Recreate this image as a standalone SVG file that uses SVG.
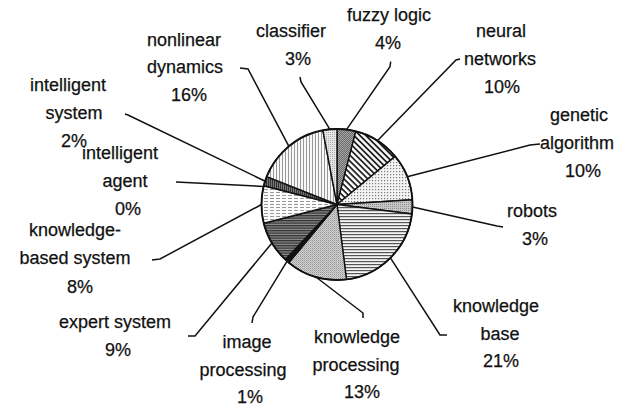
<svg xmlns="http://www.w3.org/2000/svg" width="625" height="406" viewBox="0 0 625 406">
  <style>
    .lbl { font-family: "Liberation Sans", Arial, sans-serif; font-size: 18px; fill: #111; stroke: #111; stroke-width: 0.25; text-anchor: middle; }
    .slice { stroke: #111; stroke-width: 1.4; stroke-linejoin: round; }
    .lead { fill: none; stroke: #111; stroke-width: 1.5; }
  </style>
  <defs>
    <pattern id="pFuzzy" width="2" height="2" patternUnits="userSpaceOnUse">
      <rect width="2" height="2" fill="#6a6a6a"/>
      <rect width="1" height="1" fill="#a6a6a6"/>
      <rect x="1" y="1" width="1" height="1" fill="#a6a6a6"/>
    </pattern>
    <pattern id="pClassifier" width="2" height="2" patternUnits="userSpaceOnUse">
      <rect width="2" height="2" fill="#e6e6e6"/>
      <rect width="1" height="1" fill="#a8a8a8"/>
    </pattern>
    <pattern id="pNeural" width="4.2" height="4.2" patternUnits="userSpaceOnUse" patternTransform="rotate(45)">
      <rect width="4.2" height="4.2" fill="#fff"/>
      <rect y="0" width="4.2" height="1.8" fill="#222"/>
    </pattern>
    <pattern id="pGenetic" width="3" height="3" patternUnits="userSpaceOnUse">
      <rect width="3" height="3" fill="#f4f4f4"/>
      <rect width="1.2" height="1.2" fill="#7a7a7a"/>
    </pattern>
    <pattern id="pRobots" width="2" height="2" patternUnits="userSpaceOnUse">
      <rect width="2" height="2" fill="#c8c8c8"/>
      <rect width="1" height="1" fill="#8c8c8c"/>
    </pattern>
    <pattern id="pKB" width="3" height="3" patternUnits="userSpaceOnUse">
      <rect width="3" height="3" fill="#f4f4f4"/>
      <rect width="3" height="1.2" fill="#555"/>
    </pattern>
    <pattern id="pKP" width="2" height="2" patternUnits="userSpaceOnUse">
      <rect width="2" height="2" fill="#d2d2d2"/>
      <rect width="1" height="1" fill="#949494"/>
      <rect x="1" y="1" width="1" height="1" fill="#b4b4b4"/>
    </pattern>
    <pattern id="pExpert" width="2.5" height="2.5" patternUnits="userSpaceOnUse">
      <rect width="2.5" height="2.5" fill="#8e8e8e"/>
      <rect width="2.5" height="1.3" fill="#333"/>
    </pattern>
    <pattern id="pKBS" width="6" height="3" patternUnits="userSpaceOnUse">
      <rect width="6" height="3" fill="#fcfcfc"/>
      <rect width="4" height="1" fill="#9a9a9a"/>
    </pattern>
    <pattern id="pIS" width="2" height="2" patternUnits="userSpaceOnUse">
      <rect width="2" height="2" fill="#777"/>
      <rect width="1" height="2" fill="#333"/>
    </pattern>
    <pattern id="pNonlinear" width="3" height="3" patternUnits="userSpaceOnUse">
      <rect width="3" height="3" fill="#f8f8f8"/>
      <rect width="1" height="3" fill="#999"/>
    </pattern>
  </defs>

  <!-- leader lines from labels to slices -->
  <g id="connectors">
    <polyline class="lead" points="390.7,61.7 390,66.7 346.5,129.6"/>
    <polyline class="lead" points="300,77 301,82 329.9,129.3"/>
    <polyline class="lead" points="460,59 456,60 377.4,140.8"/>
    <polyline class="lead" points="540,144 530,145 407.2,176.7"/>
    <polyline class="lead" points="503,227 497,226 412.5,206.9"/>
    <polyline class="lead" points="447,335 440,335 390.4,257.9"/>
    <polyline class="lead" points="363,318 363,313 315.9,277"/>
    <polyline class="lead" points="252,323 253,317 287.1,261.1"/>
    <polyline class="lead" points="188,336 195,336 272,242.9"/>
    <polyline class="lead" points="152,260 160,259 261.5,204.5"/>
    <polyline class="lead" points="176,182 263.5,186.5"/>
    <polyline class="lead" points="125,114 128,115 265.2,181.2"/>
    <polyline class="lead" points="240,68 248,69 288.9,146.3"/>
  </g>

  <!-- pie slices, clockwise from 12 o'clock; centre (337,204.5), r 75.5 -->
  <g id="fuzzy-logic">
    <path class="slice" fill="url(#pFuzzy)" d="M337,204.5 L337,129 A75.5,75.5 0 0 1 355.78,131.37 Z"/>
    <text class="lbl" x="389" y="21">fuzzy logic</text>
    <text class="lbl" x="388" y="49">4%</text>
  </g>
  <g id="neural-networks">
    <path class="slice" fill="url(#pNeural)" d="M337,204.5 L355.78,131.37 A75.5,75.5 0 0 1 395.17,156.38 Z"/>
    <text class="lbl" x="501" y="37">neural</text>
    <text class="lbl" x="500" y="65">networks</text>
    <text class="lbl" x="502" y="93">10%</text>
  </g>
  <g id="genetic-algorithm">
    <path class="slice" fill="url(#pGenetic)" d="M337,204.5 L395.17,156.38 A75.5,75.5 0 0 1 412.35,199.76 Z"/>
    <text class="lbl" x="579" y="121">genetic</text>
    <text class="lbl" x="577" y="149">algorithm</text>
    <text class="lbl" x="583" y="177">10%</text>
  </g>
  <g id="robots">
    <path class="slice" fill="url(#pRobots)" d="M337,204.5 L412.35,199.76 A75.5,75.5 0 0 1 411.90,213.96 Z"/>
    <text class="lbl" x="532" y="217">robots</text>
    <text class="lbl" x="535" y="245">3%</text>
  </g>
  <g id="knowledge-base">
    <path class="slice" fill="url(#pKB)" d="M337,204.5 L411.90,213.96 A75.5,75.5 0 0 1 346.46,279.40 Z"/>
    <text class="lbl" x="496" y="312">knowledge</text>
    <text class="lbl" x="500" y="340">base</text>
    <text class="lbl" x="501" y="367">21%</text>
  </g>
  <g id="knowledge-processing">
    <path class="slice" fill="url(#pKP)" d="M337,204.5 L346.46,279.40 A75.5,75.5 0 0 1 288.88,262.67 Z"/>
    <text class="lbl" x="357" y="343">knowledge</text>
    <text class="lbl" x="356" y="371">processing</text>
    <text class="lbl" x="362" y="398">13%</text>
  </g>
  <g id="image-processing">
    <path class="slice" fill="#111" d="M337,204.5 L288.88,262.67 A75.5,75.5 0 0 1 285.32,259.54 Z"/>
    <text class="lbl" x="247" y="348">image</text>
    <text class="lbl" x="243" y="376">processing</text>
    <text class="lbl" x="250" y="403">1%</text>
  </g>
  <g id="expert-system">
    <path class="slice" fill="url(#pExpert)" d="M337,204.5 L285.32,259.54 A75.5,75.5 0 0 1 263.87,223.28 Z"/>
    <text class="lbl" x="115" y="328">expert system</text>
    <text class="lbl" x="118" y="356">9%</text>
  </g>
  <g id="knowledge-based-system">
    <path class="slice" fill="url(#pKBS)" d="M337,204.5 L263.87,223.28 A75.5,75.5 0 0 1 263.87,185.72 Z"/>
    <text class="lbl" x="75" y="236">knowledge-</text>
    <text class="lbl" x="75" y="264">based system</text>
    <text class="lbl" x="80" y="293">8%</text>
  </g>
  <g id="intelligent-agent">
    <text class="lbl" x="120" y="159">intelligent</text>
    <text class="lbl" x="125" y="187">agent</text>
    <text class="lbl" x="128" y="215">0%</text>
  </g>
  <g id="intelligent-system">
    <path class="slice" fill="url(#pIS)" d="M337,204.5 L263.87,185.72 A75.5,75.5 0 0 1 266.80,176.71 Z"/>
    <text class="lbl" x="68" y="91">intelligent</text>
    <text class="lbl" x="74" y="119">system</text>
    <text class="lbl" x="74" y="147">2%</text>
  </g>
  <g id="nonlinear-dynamics">
    <path class="slice" fill="url(#pNonlinear)" d="M337,204.5 L266.80,176.71 A75.5,75.5 0 0 1 322.85,130.34 Z"/>
    <text class="lbl" x="184" y="46">nonlinear</text>
    <text class="lbl" x="185" y="73">dynamics</text>
    <text class="lbl" x="189" y="101">16%</text>
  </g>
  <g id="classifier">
    <path class="slice" fill="url(#pClassifier)" d="M337,204.5 L322.85,130.34 A75.5,75.5 0 0 1 337,129 Z"/>
    <text class="lbl" x="291" y="37">classifier</text>
    <text class="lbl" x="298" y="65">3%</text>
  </g>
  <circle cx="337" cy="204.5" r="75.5" fill="none" stroke="#111" stroke-width="1.8"/>
</svg>
